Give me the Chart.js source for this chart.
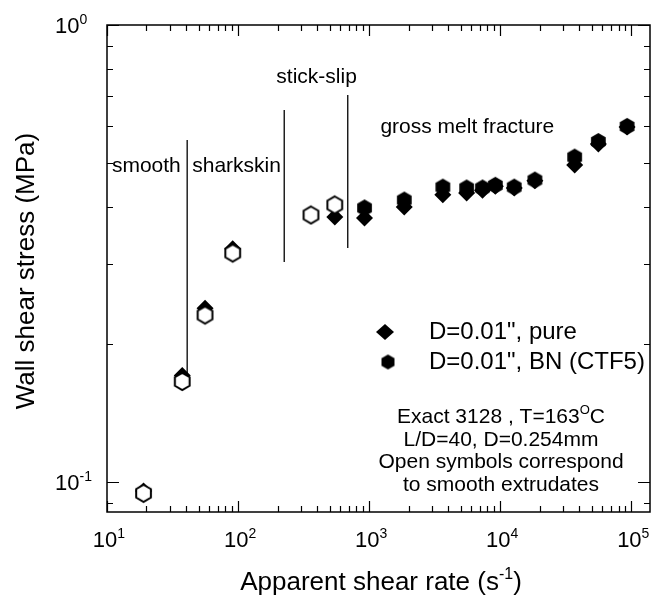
<!DOCTYPE html>
<html>
<head>
<meta charset="utf-8">
<script src="https://cdn.jsdelivr.net/npm/chart.js@4/dist/chart.umd.min.js"></script>
<style>
  html, body { margin: 0; padding: 0; background: #ffffff; }
  #wrap { width: 659px; height: 598px; }
</style>
</head>
<body>
<div id="wrap"><canvas id="c" width="659" height="598"></canvas></div>
<script>
// Apparent shear rate (1/s) and wall shear stress (MPa), Exact 3128 at 163 C
const shearRatePure = [19, 37.5, 56, 91, 547, 922, 1854, 3650, 5546, 7330, 9180, 12800, 18400, 37000, 56100, 92900];
const stressPure    = [0.0956, 0.171, 0.240, 0.324, 0.380, 0.378, 0.400, 0.425, 0.429, 0.435, 0.444, 0.440, 0.456, 0.494, 0.549, 0.598];

// BN (CTF5) filled runs: smooth extrudates (open) and distorted ones (filled)
const shearRateBNSmooth = [19, 37.5, 56, 91, 360, 547];
const stressBNSmooth    = [0.0945, 0.166, 0.232, 0.317, 0.384, 0.404];
const shearRateBNRough  = [922, 1854, 3650, 5546, 7330, 9180, 12800, 18400, 37000, 56100, 92900];
const stressBNRough     = [0.398, 0.414, 0.442, 0.440, 0.440, 0.446, 0.442, 0.458, 0.514, 0.556, 0.600];

// Flow-regime boundaries
const dividerRates  = [40.9, 225, 687];
const dividerTop    = [0.56, 0.652, 0.703];
const dividerBottom = [0.173, 0.303, 0.325];

// Flow-regime names, anchored at (rate, stress) of their left baseline
const regimeNames  = ['smooth', 'sharkskin', 'stick-slip', 'gross melt fracture'];
const regimeRates  = [10.9, 44.7, 196, 1219];
const regimeStress = [0.477, 0.477, 0.746, 0.580];

// Axis decades
const xDecades = [1, 2, 3, 4, 5];
const yDecades = [0, -1];

const legendLabels = ['D=0.01", pure', 'D=0.01", BN (CTF5)'];
const noteLines = ['Exact 3128 , T=163', 'L/D=40, D=0.254mm', 'Open symbols correspond', 'to smooth extrudates'];

const FONT = '"Liberation Sans", Arial, Helvetica, sans-serif';

function hexagonCanvas(R, filled) {
  const pad = 2;
  const w = Math.ceil(R * Math.sqrt(3)) + pad * 2;
  const h = Math.ceil(2 * R) + pad * 2;
  const cv = document.createElement('canvas');
  cv.width = w; cv.height = h;
  const g = cv.getContext('2d');
  g.beginPath();
  for (let i = 0; i < 6; i++) {
    const a = -Math.PI / 2 + i * Math.PI / 3;
    const px = w / 2 + R * Math.cos(a);
    const py = h / 2 + R * Math.sin(a);
    if (i === 0) g.moveTo(px, py); else g.lineTo(px, py);
  }
  g.closePath();
  if (filled) {
    g.fillStyle = '#000';
    g.fill();
  } else {
    g.fillStyle = '#fff';
    g.fill();
    g.lineWidth = 2;
    g.strokeStyle = '#000';
    g.stroke();
  }
  return cv;
}

const hexOpen = hexagonCanvas(8.5, false);
const hexFilled = hexagonCanvas(8.5, true);
const hexLegend = hexagonCanvas(7.5, true);

function pts(xs, ys) { return xs.map((x, i) => ({ x: x, y: ys[i] })); }

const datasets = [
  {
    label: legendLabels[1] + ' smooth',
    data: pts(shearRateBNSmooth, stressBNSmooth),
    pointStyle: hexOpen,
    showLine: false
  },
  {
    label: legendLabels[1],
    data: pts(shearRateBNRough, stressBNRough),
    pointStyle: hexFilled,
    showLine: false
  },
  {
    label: legendLabels[0],
    data: pts(shearRatePure, stressPure),
    pointStyle: 'rectRot',
    pointRadius: 8.5,
    backgroundColor: '#000',
    borderColor: '#000',
    borderWidth: 0,
    showLine: false
  }
];
dividerRates.forEach((r, i) => {
  datasets.push({
    label: 'divider' + i,
    data: [{ x: r, y: dividerBottom[i] }, { x: r, y: dividerTop[i] }],
    showLine: true,
    borderColor: '#000',
    borderWidth: 1.3,
    pointRadius: 0
  });
});

function drawSup(ctx, parts, x, y, size, align) {
  // parts: [[text, isSup], ...]
  const supSize = Math.round(size * 0.62);
  let total = 0;
  const widths = parts.map(p => {
    ctx.font = (p[1] ? supSize : size) + 'px ' + FONT;
    const w = ctx.measureText(p[0]).width;
    total += w;
    return w;
  });
  let cx = x;
  if (align === 'center') cx = x - total / 2;
  else if (align === 'right') cx = x - total;
  ctx.textAlign = 'left';
  ctx.textBaseline = 'alphabetic';
  parts.forEach((p, i) => {
    ctx.font = (p[1] ? supSize : size) + 'px ' + FONT;
    ctx.fillText(p[0], cx, p[1] ? y - size * 0.42 : y);
    cx += widths[i];
  });
}

const framePlugin = {
  id: 'frame',
  afterDatasetsDraw(chart) {
    const ctx = chart.ctx;
    const a = chart.chartArea;
    const xs = chart.scales.x, ys = chart.scales.y;
    ctx.save();
    ctx.strokeStyle = '#000';
    ctx.fillStyle = '#000';
    ctx.lineWidth = 1.5;
    ctx.strokeRect(a.left, a.top, a.right - a.left, a.bottom - a.top);

    // x ticks (bottom and top, pointing inward)
    ctx.lineWidth = 1.2;
    for (let d = xDecades[0]; d <= xDecades[xDecades.length - 1]; d++) {
      for (let m = 1; m <= 9; m++) {
        const v = m * Math.pow(10, d);
        if (v < xs.min || v > xs.max) continue;
        const px = Math.round(xs.getPixelForValue(v)) + 0.5;
        const len = m === 1 ? 11 : 6;
        ctx.beginPath();
        ctx.moveTo(px, a.bottom); ctx.lineTo(px, a.bottom - len);
        ctx.moveTo(px, a.top); ctx.lineTo(px, a.top + len);
        ctx.stroke();
      }
    }
    // y ticks (left and right, pointing inward)
    for (let d = -2; d <= 0; d++) {
      for (let m = 1; m <= 9; m++) {
        const v = m * Math.pow(10, d);
        if (v < ys.min - 1e-9 || v > ys.max + 1e-9) continue;
        const py = Math.round(ys.getPixelForValue(v)) + 0.5;
        const len = m === 1 ? 12 : 6;
        ctx.beginPath();
        ctx.moveTo(a.left, py); ctx.lineTo(a.left + len, py);
        ctx.moveTo(a.right, py); ctx.lineTo(a.right - len, py);
        ctx.stroke();
      }
    }

    // tick labels
    xDecades.forEach(d => {
      const px = xs.getPixelForValue(Math.pow(10, d));
      drawSup(ctx, [['10', false], [String(d), true]], px + 2, 547, 22, 'center');
    });
    yDecades.forEach(d => {
      const py = ys.getPixelForValue(Math.pow(10, d));
      drawSup(ctx, [['10', false], [String(d), true]], 55, py + 8, 22, 'left');
    });

    // axis titles
    drawSup(ctx, [['Apparent shear rate (s', false], ['-1', true], [')', false]], 381, 590, 26, 'center');
    ctx.save();
    ctx.translate(34, 271);
    ctx.rotate(-Math.PI / 2);
    ctx.font = '26px ' + FONT;
    ctx.textAlign = 'center';
    ctx.textBaseline = 'alphabetic';
    ctx.fillText('Wall shear stress (MPa)', 0, 0);
    ctx.restore();

    // flow regime names
    ctx.font = '21px ' + FONT;
    ctx.textAlign = 'left';
    ctx.textBaseline = 'alphabetic';
    regimeNames.forEach((t, i) => {
      ctx.fillText(t, xs.getPixelForValue(regimeRates[i]), ys.getPixelForValue(regimeStress[i]));
    });

    // legend
    ctx.beginPath();
    ctx.moveTo(385, 324); ctx.lineTo(394, 332); ctx.lineTo(385, 340); ctx.lineTo(376, 332);
    ctx.closePath();
    ctx.fill();
    ctx.drawImage(hexLegend, 388 - hexLegend.width / 2, 362 - hexLegend.height / 2);
    ctx.font = '24px ' + FONT;
    ctx.textBaseline = 'middle';
    ctx.fillText(legendLabels[0], 429, 332);
    ctx.fillText(legendLabels[1], 429, 362);

    // run conditions note
    const cx = 501;
    drawSup(ctx, [[noteLines[0], false], ['O', true], ['C', false]], cx, 423, 21, 'center');
    drawSup(ctx, [[noteLines[1], false]], cx, 445.5, 21, 'center');
    drawSup(ctx, [[noteLines[2], false]], cx, 468, 21, 'center');
    drawSup(ctx, [[noteLines[3], false]], cx, 490.5, 21, 'center');
    ctx.restore();
  }
};

new Chart(document.getElementById('c'), {
  type: 'scatter',
  data: { datasets: datasets },
  options: {
    responsive: false,
    animation: false,
    layout: { padding: { left: 107, top: 25, right: 4, bottom: 86 } },
    plugins: { legend: { display: false }, tooltip: { enabled: false } },
    elements: { point: { radius: 8, hoverRadius: 8 } },
    scales: {
      x: { type: 'logarithmic', display: false, min: 10, max: 139000 },
      y: { type: 'logarithmic', display: false, min: 0.086, max: 1 }
    }
  },
  plugins: [framePlugin]
});
</script>
</body>
</html>
